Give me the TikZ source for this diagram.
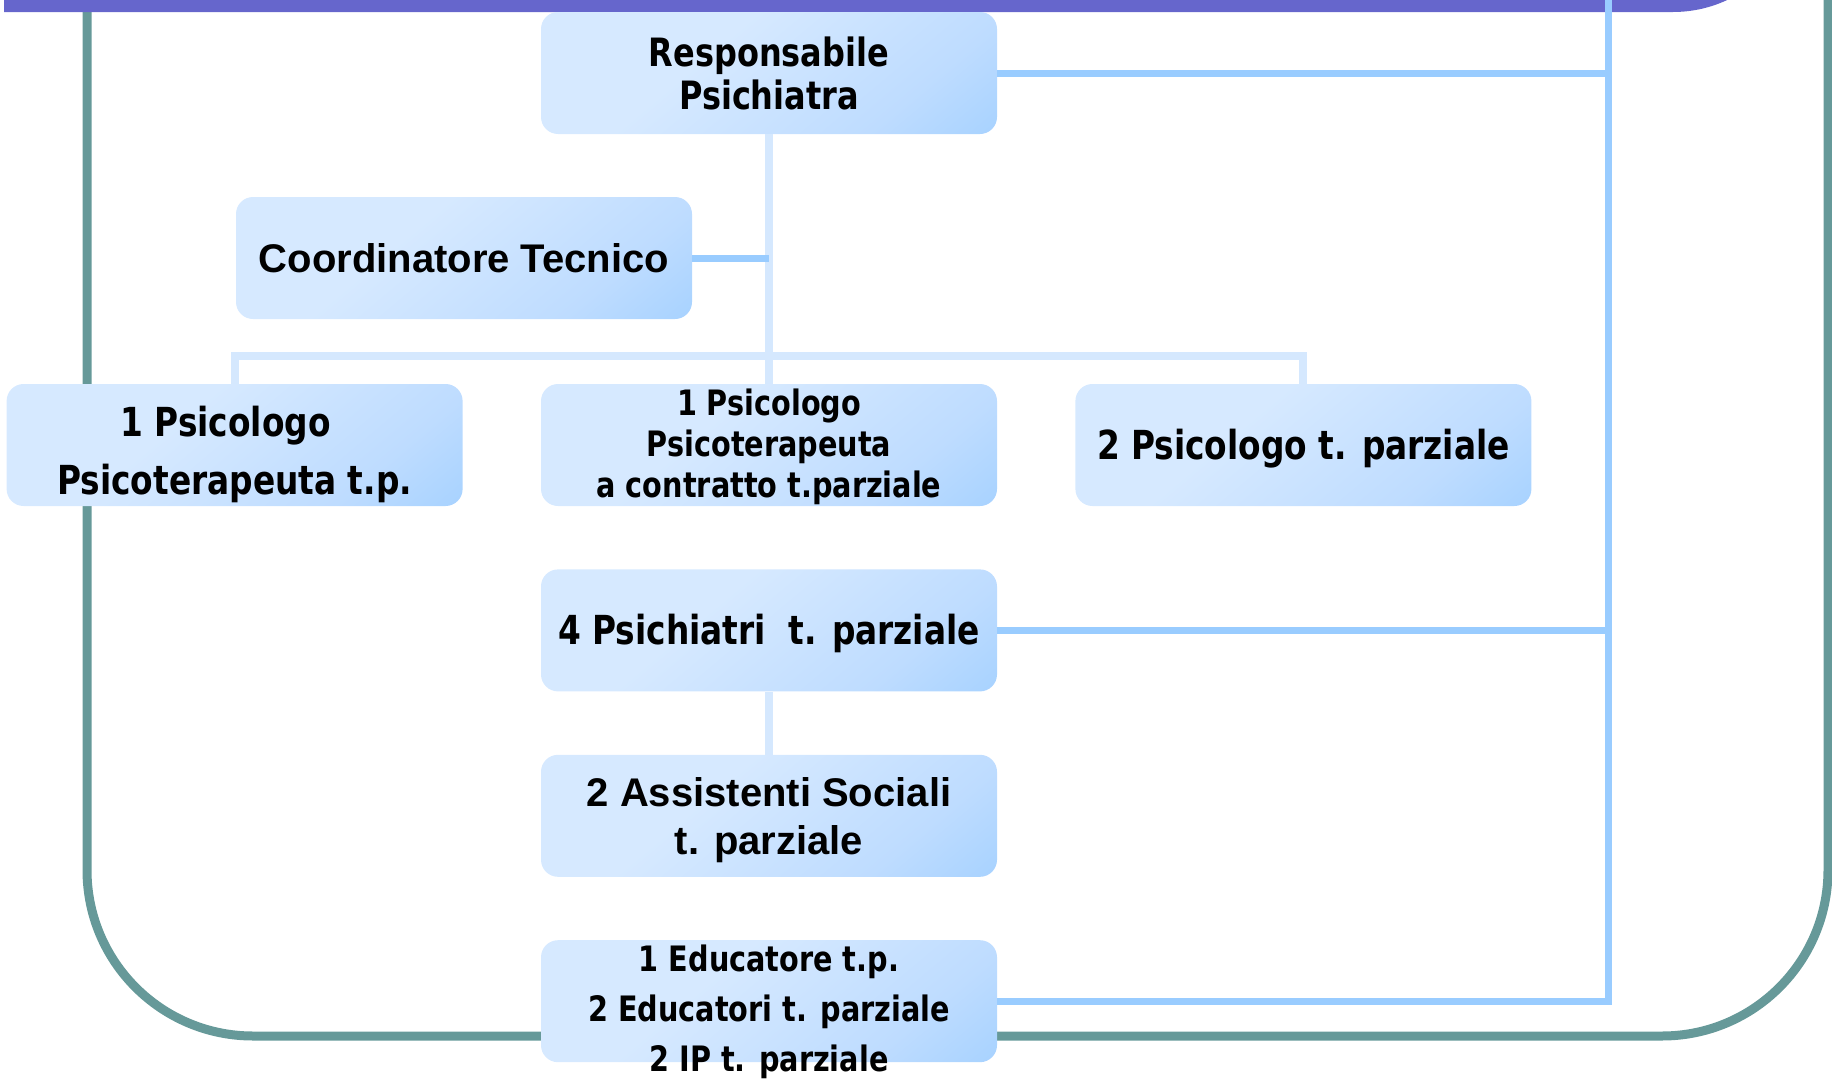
\documentclass[tikz,border=0pt]{standalone}
\usepackage{fontspec}
\usetikzlibrary{positioning, calc}
\newfontfamily\tahfont[FakeStretch=0.82]{DejaVu Sans}
\newfontfamily\arialfont{Liberation Sans}
\definecolor{boxpale}{HTML}{D6E9FF}
\definecolor{boxmid}{HTML}{BEDCFF}
\definecolor{boxblue}{HTML}{99CCFF}
\definecolor{treepale}{HTML}{D5E8FE}
\definecolor{framegreen}{HTML}{669999}
\definecolor{bannerblue}{HTML}{6666CC}
\pgfdeclarehorizontalshading{boxfade}{100bp}{color(0bp)=(boxpale); color(40bp)=(boxpale); color(70bp)=(boxmid); color(95bp)=(boxblue); color(100bp)=(boxblue)}
\newcommand\topup[1]{\rule{0pt}{#1}}

\tikzset{
    box/.style={rectangle, rounded corners=17pt, shade, shading=boxfade, shading angle=-50,
        minimum width=456pt, minimum height=122pt, inner sep=0pt, align=center},
    tree/.style={draw=treepale, line width=8pt},
    rail/.style={draw=boxblue, line width=7pt},
    edutext/.style={font=\tahfont\bfseries\fontsize{35}{50}\selectfont, align=center, yshift=-11pt},
}

\begin{document}
\begin{tikzpicture}[x=1pt, y=-1pt]
    \useasboundingbox (0,0) rectangle (1832,1079);
    \clip (0,0) rectangle (1832,1079);

    % frame and title band
    \draw[framegreen, line width=9pt, rounded corners=166pt] (87,-20) -- (87,1036) -- (1828,1036) -- (1828,-20);
    \fill[bannerblue] (4,-400) -- (4,12) {[rounded corners=128pt] -- (1801,12) -- (1801,-400)} -- cycle;

    \coordinate (bar) at (769,356);
    \coordinate (rail) at (1608,-10);

    \node[box, font=\tahfont\bfseries\fontsize{39}{43}\selectfont] (resp) at (769,73) {Responsabile\\Psichiatra};
    \node[box, font=\arialfont\bfseries\fontsize{40}{48}\selectfont] (coord) at (464,258) {Coordinatore Tecnico};
    \node[box, font=\tahfont\bfseries\fontsize{35}{41}\selectfont] (psiM) at (769,445) {\topup{31pt}1 Psicologo\\Psicoterapeuta\\a contratto t.parziale};
    \node[box, left=78pt of psiM, font=\tahfont\bfseries\fontsize{40}{58}\selectfont] (psiL) {\topup{50pt}1 Psicologo\hspace*{18pt}\\Psicoterapeuta t.p.};
    \node[box, right=78pt of psiM, font=\tahfont\bfseries\fontsize{40}{48}\selectfont] (psiR) {\topup{37pt}2 Psicologo t. parziale};
    \node[box, below=63pt of psiM, font=\tahfont\bfseries\fontsize{40}{48}\selectfont] (psych) {\topup{37pt}4 Psichiatri\ \ t. parziale};
    \node[box, below=63pt of psych, font=\arialfont\bfseries\fontsize{40}{48}\selectfont] (assist) {\topup{37pt}2 Assistenti Sociali\\t. parziale};
    \node[box, below=63pt of assist,
        label={[edutext]center:{1 Educatore t.p.\\2 Educatori t. parziale\\2 IP t. parziale}}] (edu) {};

    % pale tree
    \draw[tree] (resp.south) -- (psiM.north);
    \draw[tree] (psiL.north) |- (bar) -| (psiR.north);
    \draw[tree] (psych) -- (assist);

    % blue rail on the right
    \draw[rail] (rail) |- (edu.east);
    \draw[rail] (resp.east) -- (resp.east -| rail);
    \draw[rail] (psych.east) -- (psych.east -| rail);
    \draw[rail] (coord.east) -- (coord.east -| bar);
\end{tikzpicture}
\end{document}
